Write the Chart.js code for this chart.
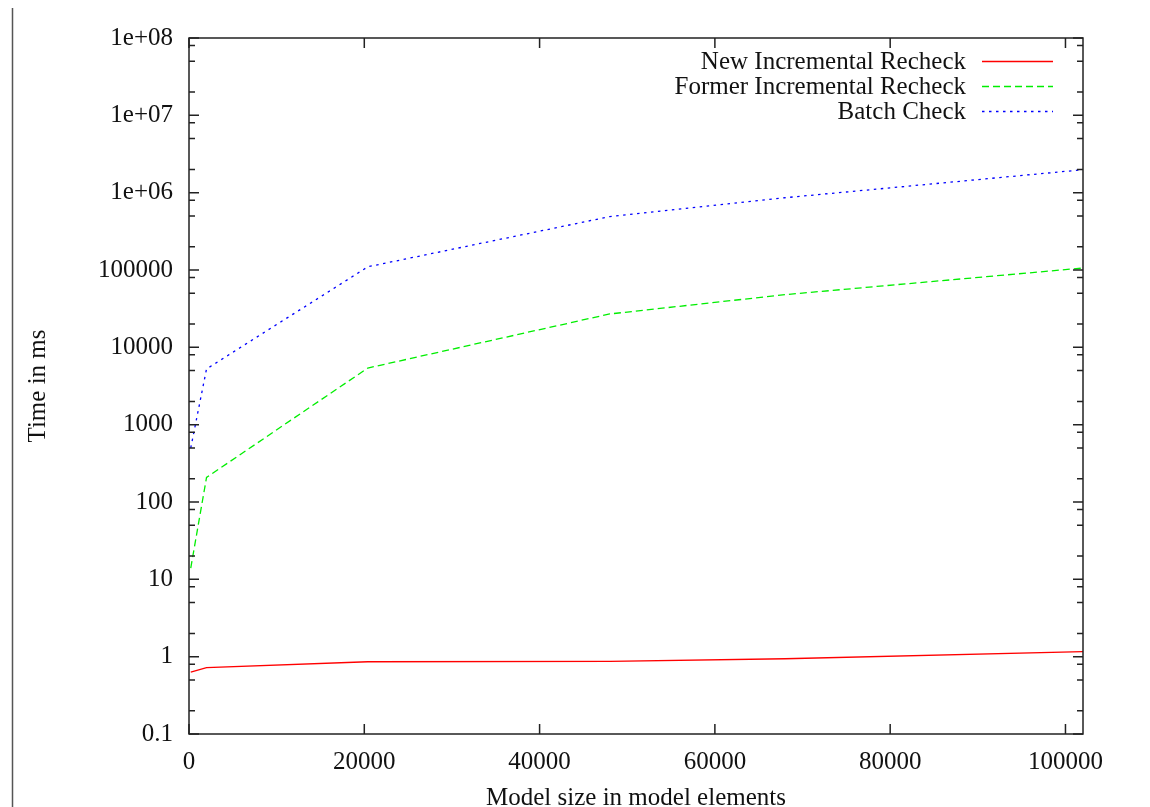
<!DOCTYPE html>
<html>
<head>
<meta charset="utf-8">
<script src="https://cdn.jsdelivr.net/npm/chart.js@4.4.0/dist/chart.umd.min.js"></script>
<style>
  html, body { margin: 0; padding: 0; background: #fff; }
  #wrap { width: 1150px; height: 807px; position: relative; }
</style>
</head>
<body>
<div id="wrap"><canvas id="myChart" width="1150" height="807"></canvas></div>
<script>
// model size (x) and check time in ms (y, log scale)
const modelSizes = [200, 2000, 20400, 48000, 68000, 102000];
const newIncremental = [0.63, 0.72, 0.86, 0.87, 0.94, 1.16];
const formerIncremental = [14, 208, 5400, 27000, 48000, 106000];
const batchCheck = [500, 5250, 110000, 490000, 860000, 1980000];

const xTickValues = [0, 20000, 40000, 60000, 80000, 100000];
const xTickLabels = ['0', '20000', '40000', '60000', '80000', '100000'];
const yTickValues = [0.1, 1, 10, 100, 1000, 10000, 100000, 1e6, 1e7, 1e8];
const yTickLabels = ['0.1', '1', '10', '100', '1000', '10000', '100000', '1e+06', '1e+07', '1e+08'];

const serif = "'Liberation Serif', 'Times New Roman', serif";
const minorFactors = [2, 5, 8];

const toPoints = (vals) => modelSizes.map((x, i) => ({ x: x, y: vals[i] }));

// gnuplot style frame, inward ticks and legend
const gnuplotFrame = {
    id: 'gnuplotFrame',
    afterDraw(chart) {
        const ctx = chart.ctx;
        const a = chart.chartArea;
        const xs = chart.scales.x;
        const ys = chart.scales.y;
        ctx.save();

        // page edge
        ctx.strokeStyle = '#555';
        ctx.lineWidth = 1.5;
        ctx.beginPath();
        ctx.moveTo(12.5, 8);
        ctx.lineTo(12.5, chart.height);
        ctx.stroke();

        ctx.strokeStyle = '#222';
        ctx.lineWidth = 1.5;
        ctx.strokeRect(a.left, a.top, a.right - a.left, a.bottom - a.top);

        ctx.beginPath();
        xTickValues.forEach(v => {
            const px = xs.getPixelForValue(v);
            ctx.moveTo(px, a.bottom); ctx.lineTo(px, a.bottom - 10);
            ctx.moveTo(px, a.top); ctx.lineTo(px, a.top + 10);
        });
        yTickValues.forEach(v => {
            const py = ys.getPixelForValue(v);
            ctx.moveTo(a.left, py); ctx.lineTo(a.left + 10, py);
            ctx.moveTo(a.right, py); ctx.lineTo(a.right - 10, py);
        });
        yTickValues.slice(0, -1).forEach(v => {
            minorFactors.forEach(m => {
                const py = ys.getPixelForValue(v * m);
                ctx.moveTo(a.left, py); ctx.lineTo(a.left + 6, py);
                ctx.moveTo(a.right, py); ctx.lineTo(a.right - 6, py);
            });
        });
        ctx.stroke();

        // legend: text right aligned, line sample on the right
        ctx.font = '25px ' + serif;
        ctx.textAlign = 'right';
        ctx.textBaseline = 'middle';
        chart.data.datasets.forEach((ds, i) => {
            const y = a.top + 23 + i * 25;
            ctx.fillStyle = '#111';
            ctx.fillText(ds.label, a.right - 117, y + 1);
            ctx.strokeStyle = ds.borderColor;
            ctx.lineWidth = ds.borderWidth;
            ctx.setLineDash(ds.borderDash || []);
            ctx.beginPath();
            ctx.moveTo(a.right - 101, y + 0.5);
            ctx.lineTo(a.right - 30, y + 0.5);
            ctx.stroke();
            ctx.setLineDash([]);
        });
        ctx.restore();
    }
};

window.onload = () => {
    const ctx = document.getElementById('myChart').getContext('2d');
    const myChart = new Chart(ctx, {
        type: 'line',
        data: {
            datasets: [{
                label: 'New Incremental Recheck',
                data: toPoints(newIncremental),
                borderColor: '#ff0000',
                borderWidth: 1.3
            }, {
                label: 'Former Incremental Recheck',
                data: toPoints(formerIncremental),
                borderColor: '#00ee00',
                borderWidth: 1.3,
                borderDash: [7, 4]
            }, {
                label: 'Batch Check',
                data: toPoints(batchCheck),
                borderColor: '#0000ff',
                borderWidth: 1.3,
                borderDash: [2.5, 4.5]
            }]
        },
        options: {
            responsive: false,
            animation: false,
            devicePixelRatio: 1,
            layout: { padding: { left: 0, top: 38, right: 67, bottom: 0 } },
            elements: { point: { radius: 0 }, line: { tension: 0 } },
            plugins: { legend: { display: false }, tooltip: { enabled: false } },
            scales: {
                x: {
                    type: 'linear',
                    min: 0,
                    max: 102000,
                    afterBuildTicks: (scale) => { scale.ticks = xTickValues.map(v => ({ value: v })); },
                    afterFit: (scale) => { scale.height = 73; },
                    grid: { display: false, drawTicks: false },
                    border: { display: false },
                    ticks: {
                        autoSkip: false,
                        maxRotation: 0,
                        padding: 13,
                        color: '#111',
                        font: { family: serif, size: 25 },
                        callback: (v, i) => xTickLabels[i]
                    },
                    title: {
                        display: true,
                        text: 'Model size in model elements',
                        color: '#111',
                        padding: 0,
                        font: { family: serif, size: 25, lineHeight: 0.72 }
                    }
                },
                y: {
                    type: 'logarithmic',
                    min: 0.1,
                    max: 1e8,
                    afterBuildTicks: (scale) => { scale.ticks = yTickValues.map(v => ({ value: v })); },
                    afterFit: (scale) => { scale.width = 189; },
                    grid: { display: false, drawTicks: false },
                    border: { display: false },
                    ticks: {
                        autoSkip: false,
                        padding: 16,
                        color: '#111',
                        font: { family: serif, size: 25 },
                        callback: (v, i) => yTickLabels[i]
                    },
                    title: {
                        display: true,
                        text: 'Time in ms',
                        color: '#111',
                        padding: { top: 26, bottom: 0 },
                        font: { family: serif, size: 25, lineHeight: 1 }
                    }
                }
            }
        },
        plugins: [gnuplotFrame]
    });
    myChart
};
</script>
</body>
</html>
